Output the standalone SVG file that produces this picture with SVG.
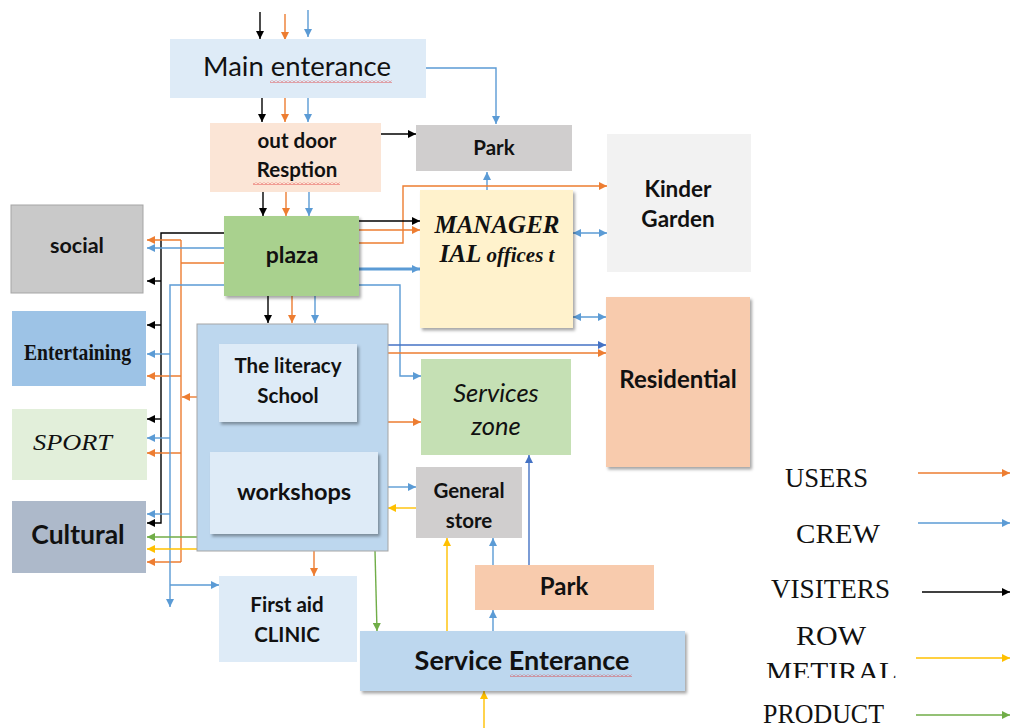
<svg xmlns="http://www.w3.org/2000/svg" width="1011" height="728" viewBox="0 0 1011 728">
<defs>
<style>
.b{font-family:Lato,"Open Sans",sans-serif;font-weight:bold;fill:#111;text-anchor:middle}
.r{font-family:Lato,"Open Sans",sans-serif;fill:#111;text-anchor:middle}
.s{font-family:"Liberation Serif","Times New Roman",serif;fill:#111}
.lg{font-family:"Liberation Serif","Times New Roman",serif;fill:#111;font-size:27px}
.c path{fill:none;stroke-width:1.4}
.o{stroke:#ED7D31}
.u{stroke:#5B9BD5}
.d{stroke:#4472C4}
.k{stroke:#000}
.y{stroke:#FFC000}
.g{stroke:#70AD47}
</style>
<filter id="sh" x="-10%" y="-10%" width="130%" height="130%">
<feDropShadow dx="2" dy="2.5" stdDeviation="1.5" flood-color="#000" flood-opacity="0.35"/>
</filter>
<marker id="mo" viewBox="0 0 10 10" refX="10" refY="5" markerWidth="9" markerHeight="8" markerUnits="userSpaceOnUse" orient="auto-start-reverse"><path d="M0,0L10,5L0,10z" fill="#ED7D31"/></marker>
<marker id="mu" viewBox="0 0 10 10" refX="10" refY="5" markerWidth="9" markerHeight="8" markerUnits="userSpaceOnUse" orient="auto-start-reverse"><path d="M0,0L10,5L0,10z" fill="#5B9BD5"/></marker>
<marker id="md" viewBox="0 0 10 10" refX="10" refY="5" markerWidth="9" markerHeight="8" markerUnits="userSpaceOnUse" orient="auto-start-reverse"><path d="M0,0L10,5L0,10z" fill="#4472C4"/></marker>
<marker id="mk" viewBox="0 0 10 10" refX="10" refY="5" markerWidth="9" markerHeight="8" markerUnits="userSpaceOnUse" orient="auto-start-reverse"><path d="M0,0L10,5L0,10z" fill="#000"/></marker>
<marker id="my" viewBox="0 0 10 10" refX="10" refY="5" markerWidth="9" markerHeight="8" markerUnits="userSpaceOnUse" orient="auto-start-reverse"><path d="M0,0L10,5L0,10z" fill="#FFC000"/></marker>
<marker id="mg" viewBox="0 0 10 10" refX="10" refY="5" markerWidth="9" markerHeight="8" markerUnits="userSpaceOnUse" orient="auto-start-reverse"><path d="M0,0L10,5L0,10z" fill="#70AD47"/></marker>
<pattern id="sq" width="4" height="3" patternUnits="userSpaceOnUse"><path d="M0,2.5L2,0.5L4,2.5" fill="none" stroke="#E03030" stroke-width="0.8"/></pattern>
<clipPath id="clipM"><rect x="700" y="640" width="250" height="38"/></clipPath>
</defs>
<rect width="1011" height="728" fill="#fff"/>

<g id="connectors" class="c">
<path class="k" d="M260,12V39" marker-end="url(#mk)"/>
<path class="o" d="M285,14V40" marker-end="url(#mo)"/>
<path class="u" d="M308,10V37" marker-end="url(#mu)"/>
<path class="k" d="M262,98V122" marker-end="url(#mk)"/>
<path class="o" d="M285,98V122" marker-end="url(#mo)"/>
<path class="u" d="M308,98V122" marker-end="url(#mu)"/>
<path class="u" d="M426,68H496V124" marker-end="url(#mu)"/>
<path class="k" d="M381,134H416" marker-end="url(#mk)"/>
<path class="k" d="M263,192V216" marker-end="url(#mk)"/>
<path class="o" d="M286,192V216" marker-end="url(#mo)"/>
<path class="u" d="M309,192V216" marker-end="url(#mu)"/>
<path class="u" d="M487,190V172" marker-end="url(#mu)"/>
<path class="o" d="M359,243H403V186H607" marker-end="url(#mo)"/>
<path class="k" d="M359,221H420" marker-end="url(#mk)"/>
<path class="o" d="M359,230H420" marker-end="url(#mo)"/>
<path class="u" d="M359,269H420" style="stroke-width:3" marker-end="url(#mu)"/>
<path class="u" d="M359,285H400V376H421" marker-end="url(#mu)"/>
<path class="u" d="M573,233H607" marker-start="url(#mu)" marker-end="url(#mu)"/>
<path class="u" d="M573,317H606" marker-start="url(#mu)" marker-end="url(#mu)"/>
<path class="d" d="M388,345H606" marker-end="url(#md)"/>
<path class="o" d="M388,353H606" marker-end="url(#mo)"/>
<path class="o" d="M388,422H421" marker-end="url(#mo)"/>
<path class="u" d="M388,487H416" marker-end="url(#mu)"/>
<path class="y" d="M416,508H388" marker-end="url(#my)"/>
<path class="d" d="M529,565V455" marker-end="url(#md)"/>
<path class="y" d="M447,631V538" marker-end="url(#my)"/>
<path class="u" d="M493,565V538" marker-end="url(#mu)"/>
<path class="u" d="M493,631V610" marker-end="url(#mu)"/>
<path class="y" d="M484,728V691" marker-end="url(#my)"/>
<path class="o" d="M314,551V576" marker-end="url(#mo)"/>
<path class="g" d="M375,551L377,631" marker-end="url(#mg)"/>
<path class="k" d="M268,296V323" marker-end="url(#mk)"/>
<path class="o" d="M292,296V323" marker-end="url(#mo)"/>
<path class="u" d="M315,296V323" marker-end="url(#mu)"/>
<path class="k" d="M224,233H161V523H147" marker-end="url(#mk)"/>
<path class="k" d="M161,281H147" marker-end="url(#mk)"/>
<path class="k" d="M161,325H147" marker-end="url(#mk)"/>
<path class="k" d="M161,419H147" marker-end="url(#mk)"/>
<path class="o" d="M224,263H181"/>
<path class="o" d="M181,240V562"/>
<path class="o" d="M181,240H147" marker-end="url(#mo)"/>
<path class="o" d="M181,376H147" marker-end="url(#mo)"/>
<path class="o" d="M181,453H147" marker-end="url(#mo)"/>
<path class="o" d="M181,562H147" marker-end="url(#mo)"/>
<path class="o" d="M197,397H182" marker-end="url(#mo)"/>
<path class="u" d="M224,248H147" marker-end="url(#mu)"/>
<path class="u" d="M224,285H170V607" marker-end="url(#mu)"/>
<path class="u" d="M170,354H147" marker-end="url(#mu)"/>
<path class="u" d="M170,438H147" marker-end="url(#mu)"/>
<path class="u" d="M170,514H147" marker-end="url(#mu)"/>
<path class="u" d="M170,585H219" marker-end="url(#mu)"/>
<path class="g" d="M197,537H147" marker-end="url(#mg)"/>
<path class="y" d="M197,549H147" marker-end="url(#my)"/>
<path class="o" d="M918,473H1010" marker-end="url(#mo)"/>
<path class="u" d="M918,523H1010" marker-end="url(#mu)"/>
<path class="k" d="M922,592H1010" marker-end="url(#mk)"/>
<path class="y" d="M916,658H1010" marker-end="url(#my)"/>
<path class="g" d="M916,715H1010" marker-end="url(#mg)"/>
</g>

<g id="main-entrance">
<rect x="170" y="39" width="256" height="59" fill="#DEEBF7"/>
<text class="r" x="297" y="76" font-size="27.5">Main enterance</text>
<rect x="270" y="80" width="122" height="3" fill="url(#sq)"/>
</g>
<g id="outdoor-reception">
<rect x="210" y="123" width="171" height="69" fill="#FBE5D6"/>
<text class="b" x="297" y="148" font-size="20.5">out door</text>
<text class="b" x="297" y="177" font-size="20.5">Resption</text>
<rect x="253" y="182" width="87" height="3" fill="url(#sq)"/>
</g>
<g id="park-top">
<rect x="416" y="125" width="156" height="46" fill="#D0CECE"/>
<text class="b" x="494" y="155" font-size="20.5">Park</text>
</g>
<g id="kinder-garden">
<rect x="607" y="134" width="144" height="138" fill="#F2F2F2"/>
<text class="b" x="678" y="197" font-size="22.5">Kinder</text>
<text class="b" x="678" y="227" font-size="22.5">Garden</text>
</g>
<g id="managerial">
<rect x="420" y="190" width="153" height="138" fill="#FFF2CC" filter="url(#sh)"/>
<text class="s" x="497" y="233" font-size="25" font-weight="bold" font-style="italic" text-anchor="middle">MANAGER</text>
<text class="s" x="497" y="262" font-weight="bold" font-style="italic" text-anchor="middle"><tspan font-size="25">IAL</tspan><tspan font-size="21"> offices t</tspan></text>
</g>
<g id="plaza">
<rect x="224" y="216" width="135" height="80" fill="#A9D18E" filter="url(#sh)"/>
<text class="b" x="292" y="263" font-size="23">plaza</text>
</g>
<g id="social">
<rect x="11" y="205" width="132" height="88" fill="#C9C9C9" stroke="#A5A5A5" stroke-width="1"/>
<text class="b" x="77" y="253" font-size="21.5">social</text>
</g>
<g id="entertaining">
<rect x="12" y="311" width="134" height="75" fill="#9DC3E6"/>
<text class="s" x="24" y="360" font-size="23" font-weight="bold" textLength="107" lengthAdjust="spacingAndGlyphs">Entertaining</text>
</g>
<g id="sport">
<rect x="12" y="409" width="135" height="71" fill="#E2EFDA"/>
<text class="s" x="33" y="450" font-size="24" font-style="italic" textLength="79" lengthAdjust="spacingAndGlyphs">SPORT</text>
</g>
<g id="cultural">
<rect x="12" y="501" width="134" height="72" fill="#ADB9CA"/>
<text class="b" x="78" y="544" font-size="26.5">Cultural</text>
</g>
<g id="school-complex">
<rect x="197" y="324" width="191" height="227" fill="#BDD7EE" stroke="#A5A5A5" stroke-width="1"/>
</g>
<g id="literacy-school">
<rect x="219" y="344" width="138" height="78" fill="#DEEBF7" filter="url(#sh)"/>
<text class="b" x="288" y="373" font-size="20.5">The literacy</text>
<text class="b" x="288" y="403" font-size="20.5">School</text>
</g>
<g id="workshops">
<rect x="210" y="452" width="168" height="82" fill="#DEEBF7" filter="url(#sh)"/>
<text class="b" x="294" y="500" font-size="23.5">workshops</text>
</g>
<g id="services-zone">
<rect x="421" y="359" width="150" height="96" fill="#C5E0B4"/>
<text class="r" x="496" y="402" font-size="25.5" font-style="italic">Services</text>
<text class="r" x="496" y="435" font-size="25.5" font-style="italic">zone</text>
</g>
<g id="residential">
<rect x="606" y="297" width="144" height="170" fill="#F8CBAD" filter="url(#sh)"/>
<text class="b" x="678" y="388" font-size="24">Residential</text>
</g>
<g id="general-store">
<rect x="416" y="467" width="106" height="71" fill="#D0CECE"/>
<text class="b" x="469" y="498" font-size="20.5">General</text>
<text class="b" x="469" y="528" font-size="20.5">store</text>
</g>
<g id="park-bottom">
<rect x="475" y="565" width="179" height="45" fill="#F8CBAD"/>
<text class="b" x="564" y="595" font-size="24">Park</text>
</g>
<g id="first-aid">
<rect x="219" y="576" width="138" height="86" fill="#DEEBF7"/>
<text class="b" x="287" y="612" font-size="20.5">First aid</text>
<text class="b" x="287" y="642" font-size="20.5">CLINIC</text>
</g>
<g id="service-entrance">
<rect x="360" y="631" width="325" height="60" fill="#BDD7EE" filter="url(#sh)"/>
<text class="b" x="522" y="670" font-size="27">Service Enterance</text>
<rect x="510" y="674" width="122" height="3" fill="url(#sq)"/>
</g>

<g id="legend">
<text class="lg" x="785" y="487" textLength="83" lengthAdjust="spacingAndGlyphs">USERS</text>
<text class="lg" x="796" y="543" textLength="84" lengthAdjust="spacingAndGlyphs">CREW</text>
<text class="lg" x="771" y="598" textLength="119" lengthAdjust="spacingAndGlyphs">VISITERS</text>
<text class="lg" x="796" y="645" textLength="70" lengthAdjust="spacingAndGlyphs">ROW</text>
<text class="lg" x="766" y="681" textLength="131" lengthAdjust="spacingAndGlyphs" clip-path="url(#clipM)">METIRAL</text>
<text class="lg" x="763" y="723" textLength="121" lengthAdjust="spacingAndGlyphs">PRODUCT</text>
</g>
</svg>
